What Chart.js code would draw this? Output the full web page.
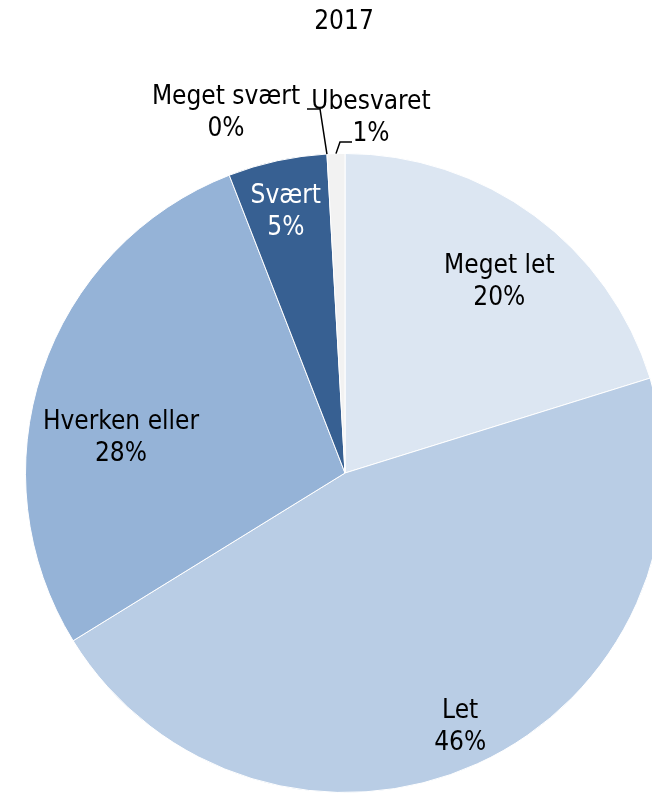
<!DOCTYPE html>
<html>
<head>
<meta charset="utf-8">
<script src="https://cdn.jsdelivr.net/npm/chart.js@4/dist/chart.umd.min.js"></script>
<style>
  html, body { margin: 0; padding: 0; background: #fff; overflow: hidden; }
  #wrap { position: absolute; left: 0; top: 0; width: 700px; height: 800px; }
</style>
</head>
<body>
<div id="wrap"><canvas id="pie" width="700" height="800"></canvas></div>
<script>
// data
var titel = '2017';
var kategorier = ['Meget let', 'Let', 'Hverken eller', 'Svært', 'Meget svært', 'Ubesvaret'];
var andele = [20.2, 46.0, 27.9, 5.0, 0.0, 0.9];
var farver = ['#DCE6F2', '#B9CDE5', '#95B3D7', '#376092', '#254061', '#F2F2F2'];

// label placement (inside: fraction of radius + angle nudge in deg, outside: offset from centre)
var placering = [
  { r: 0.77, da: 2.5, color: '#000' },
  { r: 0.87, da: 0, color: '#000' },
  { r: 0.71, da: -9.5, color: '#000' },
  { r: 0.84, da: -0.5, color: '#fff' },
  { ox: -119, oy: -361, color: '#000', leader: [[-25, -364], [-38, -364]] },
  { ox: 26, oy: -356, color: '#000', leader: [[-5, -331], [7, -331]] }
];

var font = '26px "DejaVu Sans Condensed", "DejaVu Sans", sans-serif';

var etiketter = {
  id: 'etiketter',
  afterDatasetsDraw: function(chart) {
    var ctx = chart.ctx;
    var meta = chart.getDatasetMeta(0);
    ctx.save();
    ctx.font = font;
    ctx.textAlign = 'center';
    ctx.textBaseline = 'middle';
    ctx.fillStyle = '#000';
    ctx.fillText(titel, 344, 22);
    meta.data.forEach(function(arc, i) {
      var p = arc.getProps(['x', 'y', 'startAngle', 'endAngle', 'outerRadius'], true);
      var mid = (p.startAngle + p.endAngle) / 2;
      var pl = placering[i];
      var lx, ly;
      if (pl.leader) {
        lx = p.x + pl.ox;
        ly = p.y + pl.oy;
        var ex = p.x + Math.cos(mid) * p.outerRadius;
        var ey = p.y + Math.sin(mid) * p.outerRadius;
        ctx.beginPath();
        ctx.strokeStyle = '#000';
        ctx.lineWidth = 1.5;
        ctx.moveTo(ex, ey);
        pl.leader.forEach(function(pt) { ctx.lineTo(p.x + pt[0], p.y + pt[1]); });
        ctx.stroke();
      } else {
        var a = mid + pl.da * Math.PI / 180;
        lx = p.x + Math.cos(a) * p.outerRadius * pl.r;
        ly = p.y + Math.sin(a) * p.outerRadius * pl.r;
      }
      ctx.fillStyle = pl.color;
      ctx.fillText(kategorier[i], lx, ly - 15);
      ctx.fillText(Math.round(andele[i]) + '%', lx, ly + 17);
    });
    ctx.restore();
  }
};

new Chart(document.getElementById('pie').getContext('2d'), {
  type: 'pie',
  plugins: [etiketter],
  data: {
    labels: kategorier,
    datasets: [{
      data: andele,
      backgroundColor: farver,
      borderColor: '#ffffff',
      borderWidth: 1
    }]
  },
  options: {
    responsive: false,
    animation: false,
    layout: { padding: { left: 25, top: 153, right: 35, bottom: 7 } },
    plugins: {
      legend: { display: false },
      tooltip: { enabled: false }
    }
  }
});
</script>
</body>
</html>
